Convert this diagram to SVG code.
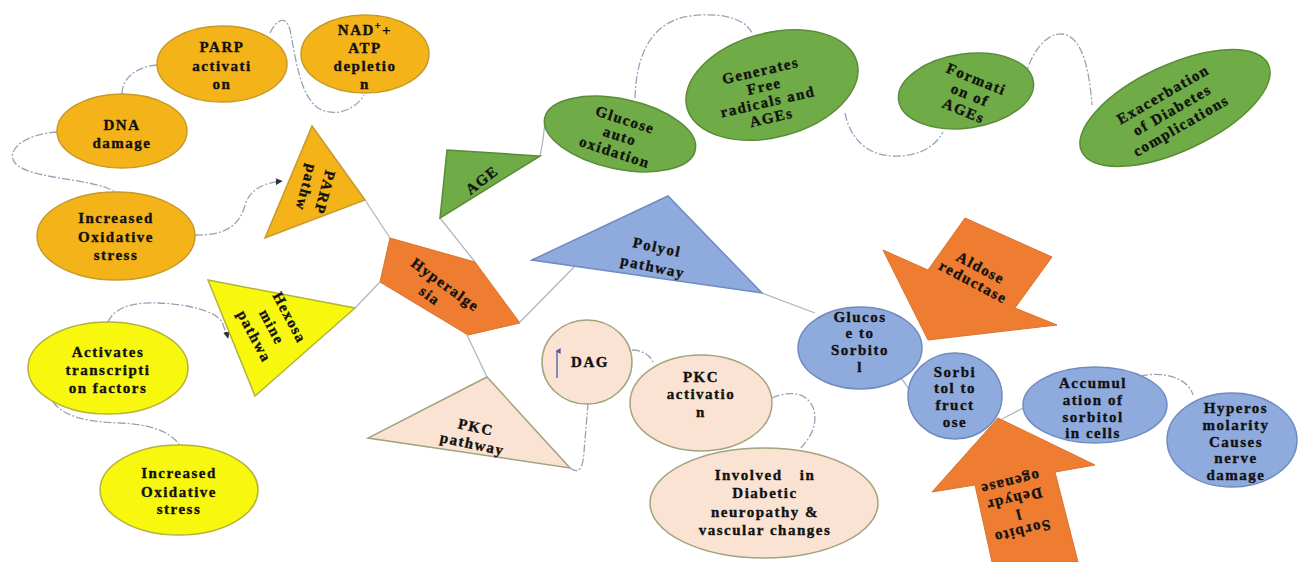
<svg xmlns="http://www.w3.org/2000/svg" width="1298" height="562" viewBox="0 0 1298 562">
<defs>
<style>
.t{font-family:"Liberation Serif","Times New Roman",serif;font-weight:bold;font-size:15px;letter-spacing:1.5px;fill:#111;stroke:#111;stroke-width:0.35;text-anchor:middle}
.or{fill:#F4B319;stroke:#C79A2A;stroke-width:1.5}
.ye{fill:#F8F80E;stroke:#B3B33C;stroke-width:1.5}
.gr{fill:#6FAB46;stroke:#5A8C38;stroke-width:1.5}
.bl{fill:#8FAADC;stroke:#6F8CC0;stroke-width:1.5}
.pe{fill:#FAE3D3;stroke:#A3A37E;stroke-width:1.5}
.ao{fill:#EE7D31;stroke:#D7732F;stroke-width:1}
.cd{fill:none;stroke:#98A2B6;stroke-width:1.3;stroke-dasharray:8 2 2 2}
.cs{fill:none;stroke:#AEB6C6;stroke-width:1.3}
</style>
<marker id="ah" viewBox="0 0 10 10" refX="9" refY="5" markerWidth="7" markerHeight="7" orient="auto" markerUnits="userSpaceOnUse">
<path d="M0,0 L10,5 L0,10 z" fill="#333"/>
</marker>
<marker id="ab" viewBox="0 0 10 10" refX="5" refY="2" markerWidth="6" markerHeight="6" orient="auto" markerUnits="userSpaceOnUse">
<path d="M0,8 L5,0 L10,8 z" fill="#4A5AA8"/>
</marker>
</defs>
<rect width="1298" height="562" fill="#fff"/>

<g id="connectors">
<path class="cd" d="M270,33 C276,20 286,14 290,30 C296,60 300,95 318,108 C335,118 355,110 364,95"/>
<path class="cd" d="M122,94 C122,76 140,66 157,65"/>
<path class="cd" d="M57,132 C25,134 5,150 15,163 C30,180 95,178 115,192"/>
<path class="cd" d="M195,235 C225,236 240,225 245,205 C250,190 262,183 282,181" marker-end="url(#ah)"/>
<path class="cd" d="M108,322 C115,305 140,302 158,303 C185,304 215,310 222,322 C225,330 227,334 228,338" marker-end="url(#ah)"/>
<path class="cd" d="M53,402 C65,418 90,422 120,423 C150,424 172,432 180,446"/>
<path class="cd" d="M635,98 C636,60 648,22 690,16 C720,12 745,18 752,33"/>
<path class="cd" d="M845,113 C850,138 866,155 893,156 C918,157 935,147 943,132"/>
<path class="cd" d="M1025,78 C1030,55 1045,33 1062,34 C1085,36 1090,80 1092,105"/>
<path class="cd" d="M570,468 C578,474 583,470 584,452 L588,404"/>
<path class="cd" d="M632,350 C642,350 650,355 653,362"/>
<path class="cd" d="M772,398 C790,390 808,392 814,410 C818,428 808,440 800,449"/>
<path class="cd" d="M1140,376 C1165,371 1188,378 1193,395"/>
<path class="cs" d="M365,200 L390,238"/>
<path class="cs" d="M355,308 L380,282"/>
<path class="cs" d="M440,218 L475,262"/>
<path class="cs" d="M520,322 L575,266"/>
<path class="cs" d="M467,335 L487,377"/>
<path class="cs" d="M540,156 L543,140 L545,122"/>
<path class="cs" d="M762,293 L815,313"/>
<path class="cs" d="M895,370 L912,393"/>
<path class="cs" d="M1002,419 L1025,407"/>
</g>

<g id="parp-activation">
<ellipse class="or" cx="222" cy="64" rx="65" ry="38"/>
<text class="t"><tspan x="222" y="52">PARP</tspan><tspan x="222" y="71">activati</tspan><tspan x="222" y="89">on</tspan></text>
</g>
<g id="nad-atp">
<ellipse class="or" cx="365" cy="54" rx="64" ry="39"/>
<text class="t"><tspan x="365" y="35">NAD<tspan font-size="10" dy="-6">+</tspan><tspan dy="6">+</tspan></tspan><tspan x="365" y="53">ATP</tspan><tspan x="365" y="71">depletio</tspan><tspan x="365" y="89">n</tspan></text>
</g>
<g id="dna-damage">
<ellipse class="or" cx="122" cy="131" rx="65" ry="37"/>
<text class="t"><tspan x="122" y="130">DNA</tspan><tspan x="122" y="148">damage</tspan></text>
</g>
<g id="oxidative-orange">
<ellipse class="or" cx="116" cy="236" rx="79" ry="44"/>
<text class="t"><tspan x="116" y="223">Increased</tspan><tspan x="116" y="242">Oxidative</tspan><tspan x="116" y="260">stress</tspan></text>
</g>
<g id="parp-pathway">
<polygon class="or" points="312,126 365,200 265,238"/>
<text class="t" transform="translate(315,190) rotate(105)"><tspan x="0" y="-5">PARP</tspan><tspan x="0" y="14">pathw</tspan></text>
</g>

<g id="hexosamine">
<polygon class="ye" points="208,280 355,308 255,396"/>
<text class="t" transform="translate(272,327) rotate(62)"><tspan x="0" y="-15">Hexosa</tspan><tspan x="0" y="5">mine</tspan><tspan x="0" y="25">pathwa</tspan></text>
</g>
<g id="activates">
<ellipse class="ye" cx="108" cy="368" rx="80" ry="46"/>
<text class="t"><tspan x="108" y="357">Activates</tspan><tspan x="108" y="375">transcripti</tspan><tspan x="108" y="393">on factors</tspan></text>
</g>
<g id="oxidative-yellow">
<ellipse class="ye" cx="179" cy="490" rx="79" ry="45"/>
<text class="t"><tspan x="179" y="478">Increased</tspan><tspan x="179" y="497">Oxidative</tspan><tspan x="179" y="514">stress</tspan></text>
</g>

<g id="hyperalgesia">
<polygon class="ao" points="390,238 475,262 520,323 468,335 380,282"/>
<text class="t" transform="translate(440,292) rotate(36)"><tspan x="0" y="-4">Hyperalge</tspan><tspan x="-6" y="14">sia</tspan></text>
</g>

<g id="age">
<polygon class="gr" points="447,150 540,156 440,218"/>
<text class="t" transform="translate(482,180) rotate(-38)"><tspan x="0" y="5">AGE</tspan></text>
</g>
<g id="glucose-auto">
<ellipse class="gr" cx="620" cy="134" rx="77" ry="35" transform="rotate(12 620 134)"/>
<text class="t" transform="translate(620,136) rotate(18)"><tspan x="0" y="-12">Glucose</tspan><tspan x="0" y="5">auto</tspan><tspan x="0" y="22">oxidation</tspan></text>
</g>
<g id="generates">
<ellipse class="gr" cx="772" cy="85" rx="88" ry="52" transform="rotate(-15 772 85)"/>
<text class="t" transform="translate(766,94) rotate(-13)"><tspan x="0" y="-19">Generates</tspan><tspan x="0" y="-3">Free</tspan><tspan x="0" y="13">radicals and</tspan><tspan x="0" y="29">AGEs</tspan></text>
</g>
<g id="formation">
<ellipse class="gr" cx="966" cy="91" rx="68" ry="37" transform="rotate(-8 966 91)"/>
<text class="t" transform="translate(970,95) rotate(22)"><tspan x="0" y="-12">Formati</tspan><tspan x="0" y="5">on of</tspan><tspan x="0" y="22">AGEs</tspan></text>
</g>
<g id="exacerbation">
<ellipse class="gr" cx="1175" cy="108" rx="103" ry="43" transform="rotate(-25 1175 108)"/>
<text class="t" transform="translate(1172,110) rotate(-30)"><tspan x="0" y="-13">Exacerbation</tspan><tspan x="0" y="5">of Diabetes</tspan><tspan x="0" y="23">complications</tspan></text>
</g>

<g id="polyol">
<polygon class="bl" points="532,260 668,196 762,293"/>
<text class="t" transform="translate(655,257) rotate(12)"><tspan x="0" y="-5">Polyol</tspan><tspan x="0" y="15">pathway</tspan></text>
</g>
<g id="glucose-sorbitol">
<ellipse class="bl" cx="860" cy="348" rx="62" ry="41"/>
<text class="t"><tspan x="860" y="322">Glucos</tspan><tspan x="860" y="338">e to</tspan><tspan x="860" y="355">Sorbito</tspan><tspan x="860" y="372">l</tspan></text>
</g>
<g id="aldose-reductase">
<polygon class="ao" points="928,340 883,250 928,270 965,218 1052,257 1015,308 1057,325"/>
<text class="t" transform="translate(977,275) rotate(28)"><tspan x="0" y="-3">Aldose</tspan><tspan x="0" y="13">reductase</tspan></text>
</g>
<g id="sorbitol-fructose">
<ellipse class="bl" cx="955" cy="396" rx="47" ry="43"/>
<text class="t"><tspan x="955" y="377">Sorbi</tspan><tspan x="955" y="393">tol to</tspan><tspan x="955" y="410">fruct</tspan><tspan x="955" y="427">ose</tspan></text>
</g>
<g id="sorbitol-dehydrogenase">
<polygon class="ao" points="998,418 1095,465 1055,472 1078,562 992,562 975,485 932,492"/>
<text class="t" transform="translate(1016,507) rotate(166)"><tspan x="0" y="-20">Sorbito</tspan><tspan x="0" y="-3">l</tspan><tspan x="0" y="13">Dehydr</tspan><tspan x="0" y="30">ogenase</tspan></text>
</g>
<g id="accumulation">
<ellipse class="bl" cx="1095" cy="405" rx="72" ry="38"/>
<text class="t"><tspan x="1093" y="388">Accumul</tspan><tspan x="1093" y="405">ation of</tspan><tspan x="1093" y="422">sorbitol</tspan><tspan x="1093" y="438">in cells</tspan></text>
</g>
<g id="hyperosmolarity">
<ellipse class="bl" cx="1232" cy="440" rx="65" ry="47"/>
<text class="t"><tspan x="1236" y="413">Hyperos</tspan><tspan x="1236" y="430">molarity</tspan><tspan x="1236" y="447">Causes</tspan><tspan x="1236" y="463">nerve</tspan><tspan x="1236" y="480">damage</tspan></text>
</g>

<g id="pkc-pathway">
<polygon class="pe" points="487,377 368,438 570,468"/>
<text class="t" transform="translate(474,436) rotate(12)"><tspan x="0" y="-4">PKC</tspan><tspan x="0" y="13">pathway</tspan></text>
</g>
<g id="dag">
<ellipse class="pe" cx="587" cy="362" rx="45" ry="42"/>
<line x1="557" y1="378" x2="557" y2="351" stroke="#4A5AA8" stroke-width="1.3" marker-end="url(#ab)"/>
<text class="t" x="590" y="367">DAG</text>
</g>
<g id="pkc-activation">
<ellipse class="pe" cx="701" cy="403" rx="71" ry="48"/>
<text class="t"><tspan x="701" y="382">PKC</tspan><tspan x="701" y="399">activatio</tspan><tspan x="701" y="417">n</tspan></text>
</g>
<g id="involved">
<ellipse class="pe" cx="764" cy="503" rx="114" ry="55"/>
<text class="t"><tspan x="765" y="480" word-spacing="12">Involved in</tspan><tspan x="765" y="498">Diabetic</tspan><tspan x="765" y="517">neuropathy &amp;</tspan><tspan x="765" y="535">vascular changes</tspan></text>
</g>
</svg>
